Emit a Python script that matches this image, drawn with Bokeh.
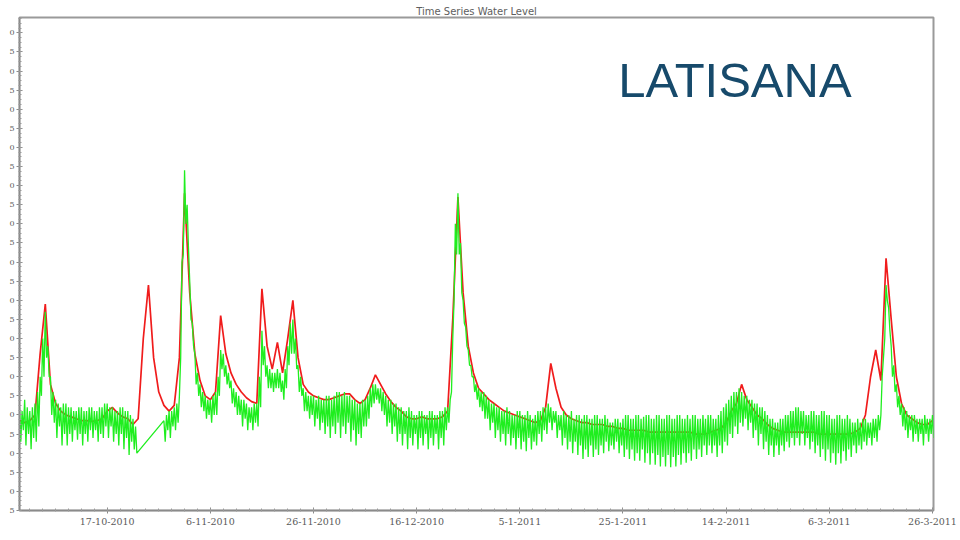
import pandas as pd
from bokeh.plotting import figure
from bokeh.models import FixedTicker, Label, Range1d
from bokeh.embed import file_html
from bokeh.resources import INLINE

# ---------------- data ----------------
start_date = "2010-09-30"          # day 0 of the daily series
n_days = 178

red_level = [
    18.6, 18.0, 18.5, 20.0, 36.0, 49.0, 28.0, 23.0, 21.0, 20.0,
    19.5, 19.0, 18.5, 18.5, 18.3, 18.5, 19.0, 21.0, 22.0, 20.5,
    19.5, 19.0, 17.5, 19.0, 40.0, 54.0, 35.0, 26.0, 22.5, 21.0,
    22.5, 35.0, 78.0, 52.0, 36.0, 29.0, 25.0, 24.0, 26.0, 46.0,
    36.0, 31.0, 28.0, 26.0, 24.5, 23.5, 23.0, 53.0, 38.0, 32.0,
    39.0, 31.0, 40.0, 50.0, 35.0, 28.0, 26.0, 25.0, 24.5, 24.0,
    24.0, 24.5, 25.0, 25.5, 25.5, 24.0, 23.0, 24.0, 27.0, 30.5,
    28.0, 25.5, 23.5, 22.0, 21.0, 19.5, 19.0, 19.0, 19.5, 19.0,
    19.0, 19.0, 19.5, 21.0, 45.0, 77.0, 52.0, 38.0, 31.0, 27.0,
    25.5, 24.0, 23.0, 22.0, 21.0, 20.5, 20.0, 19.5, 19.0, 18.5,
    18.0, 18.5, 22.0, 33.5, 27.0, 22.0, 20.0, 19.0, 18.5, 18.0,
    18.0, 17.5, 17.5, 17.5, 17.0, 17.0, 16.5, 16.5, 16.0, 16.0,
    16.0, 16.0, 15.5, 15.5, 15.5, 15.5, 15.5, 15.5, 15.5, 15.5,
    15.5, 15.0, 15.0, 15.0, 15.5, 16.0, 16.5, 18.0, 21.0, 23.0,
    28.0, 24.0, 22.0, 20.0, 19.0, 17.5, 16.5, 16.0, 15.5, 15.5,
    15.5, 15.5, 15.5, 15.5, 15.5, 15.0, 15.0, 15.0, 15.0, 15.0,
    15.0, 15.0, 15.5, 16.5, 20.0, 30.0, 37.0, 29.0, 61.0, 45.0,
    30.0, 23.0, 20.0, 19.0, 18.0, 17.5, 17.5, 18.5,
]

# green series, four readings per day (at d, d+1/4, d+1/2, d+3/4); None = no data
green_high = [
    22, 24, 21, 23, 30, 47, 30, 24, 22, 23,
    22, 21, 22, 21, 22, 21, 22, 23, 22, 21,
    22, 21, 19, None, None, None, None, None, 18.5, 21,
    22, 25, 84, 55, 36, 28, 25, 24, 26, 37,
    33, 29, 26, 24, 23, 22, 23, 42, 33, 31,
    32, 29, 38, 45, 33, 27, 25, 25, 25, 24,
    25, 25, 26, 26, 25, 24, 23, 24, 27, 28,
    27, 25, 24, 23, 22, 21, 21, 20, 21, 20,
    21, 20, 21, 22, 40, 78, 50, 37, 30, 27,
    26, 24, 23, 22, 21, 21, 20, 21, 20, 20,
    20, 21, 22, 22, 21, 20, 20, 21, 20, 19,
    20, 19, 20, 19, 19, 18, 19, 19, 20, 19,
    20, 19.5, 20, 19, 20, 19, 20, 19, 20, 19,
    19, 20, 19, 19, 20, 19, 21, 23, 25, 26,
    26, 25, 24, 23, 22, 20, 19, 18, 19, 20,
    21, 22, 21, 20, 21, 20, 21, 20, 19, 20,
    19, 19, 18, 18, 19, 18, 19, 20, 54, 38,
    28, 23, 21, 20, 19, 19, 19, 20,
]
green_low = [
    13, 12, 11, 13, 25, 35, 20, 14, 12, 12,
    13, 13.5, 12, 13, 14, 13, 14, 14, 13, 12,
    11, 9.5, 11, None, None, None, None, None, 13, 14,
    16, 35, 70, 45, 28, 22, 19, 18, 20, 32,
    28, 23, 20, 17, 16, 16, 17, 33, 27, 26,
    27, 24, 33, 36, 26, 21, 19, 17, 16, 15,
    14, 15, 14, 15, 13, 12, 14, 17, 22, 24,
    21, 17, 15, 13, 12, 11, 12, 11, 12, 11,
    12, 11, 12, 18, 50, 62, 44, 33, 26, 22,
    19, 16, 14, 13, 12, 12, 11, 11, 10.5, 11,
    12, 13, 15, 16, 14, 12, 11, 10, 9.5, 8.5,
    9, 9, 9.5, 10, 10.5, 11, 10, 9, 8.5, 8,
    8, 7.5, 7, 7, 6.5, 6.5, 6.3, 6.5, 7, 7.5,
    8, 8.5, 9, 9.5, 10, 9, 10, 12, 14, 15,
    17, 16, 14, 12, 11, 9.5, 9, 9.5, 10.5, 11.5,
    12, 12, 12, 11, 10, 9, 8, 7.5, 7, 7.3,
    8, 9, 10, 11, 12, 12, 13, 30, 50, 30,
    22, 17, 14, 13, 13, 12, 13, 14,
]
green_high2 = [
    21, 22, 22, 26, 40, 38, 26, 23, 23, 22,
    21, 22, 21, 22, 21, 22, 23, 22, 21, 22,
    21, 20, 17, None, None, None, None, None, 20, 21,
    23, 60, 75, 44, 31, 26, 24, 25, 30, 36,
    31, 27, 25, 24, 22, 23, 30, 38, 32, 31,
    31, 32, 44, 40, 30, 26, 25, 24, 24, 25,
    24, 26, 25, 25, 24, 23, 24, 25, 28, 27,
    26, 24, 23, 22, 21, 22, 20, 21, 20, 21,
    20, 21, 22, 24, 70, 65, 43, 33, 28, 26,
    25, 23, 22, 21, 22, 20, 21, 20, 21, 19,
    21, 22, 23, 21, 20, 21, 20, 19, 20, 20,
    19, 20, 19, 20, 18, 19, 18, 20, 19, 20,
    19, 20, 19, 20, 19, 20, 19, 20, 19, 20,
    20, 19, 20, 20, 19, 20, 22, 24, 26, 27,
    25, 24, 23, 22, 21, 19, 18, 19, 20, 21,
    22, 21, 20, 21, 20, 21, 20, 19, 20, 19,
    20, 18, 19, 19, 18, 19, 20, 35, 48, 33,
    25, 22, 20, 20, 19, 20, 19, 19,
]
green_low2 = [
    16, 15, 14, 17, 30, 30, 18, 17, 15, 15,
    16, 15, 15, 16, 16, 15, 17, 17, 15, 15,
    14, 13, 10, None, None, None, None, None, 16, 17,
    18, 62, 64, 38, 25, 21, 20, 20, 25, 30,
    27, 22, 20, 19, 18, 18, 22, 30, 27, 27,
    26, 27, 36, 32, 25, 21, 20, 19, 18, 17,
    17, 18, 17, 18, 16, 15, 17, 19, 23, 23,
    20, 18, 17, 15, 15, 14, 15, 14, 15, 14,
    15, 14, 16, 26, 62, 52, 38, 30, 24, 21,
    19, 18, 16, 15, 15, 14, 14, 13, 14, 13,
    15, 16, 18, 18, 16, 14, 13, 13, 12, 11,
    12, 11, 12, 13, 12, 13, 12, 11, 11, 10,
    11, 10, 10, 9.5, 9, 9.5, 9, 9.5, 10, 10,
    11, 11, 12, 12, 12, 12, 13, 15, 17, 18,
    19, 18, 16, 15, 13, 12, 12, 12, 13, 14,
    14, 15, 14, 13, 12, 11, 11, 10, 10, 10.5,
    11, 12, 12, 13, 14, 14, 16, 40, 42, 26,
    20, 16, 16, 15, 15, 15, 15, 16,
]

x_tick_dates = ["2010-10-17", "2010-11-06", "2010-11-26", "2010-12-16", "2011-01-05",
                "2011-01-25", "2011-02-14", "2011-03-06", "2011-03-26"]
x_tick_labels = ["17-10-2010", "6-11-2010", "26-11-2010", "16-12-2010", "5-1-2011",
                 "25-1-2011", "14-2-2011", "6-3-2011", "26-3-2011"]
y_tick_values = [-5, 0, 5, 10, 15, 20, 25, 30, 35, 40, 45, 50, 55, 60, 65, 70,
                 75, 80, 85, 90, 95, 100, 105, 110, 115, 120]
y_tick_labels = ["5", "0", "5", "0", "5", "0", "5", "0", "5", "0", "5", "0", "5",
                 "0", "5", "0", "5", "0", "5", "0", "5", "0", "5", "0", "5", "0"]

title_text = "Time Series Water Level"
station_name = "LATISANA"

# ---------------- build ----------------
t0 = pd.Timestamp(start_date)
DAY_MS = 86400000.0
def to_ms(day):
    return (t0 + pd.Timedelta(days=day)).timestamp() * 1000.0

red_x = [to_ms(d) for d in range(n_days)]

green_x, green_y = [], []
for d in range(n_days):
    if green_high[d] is None:
        continue
    for frac, arr in ((0.0, green_high), (0.25, green_low),
                      (0.5, green_high2), (0.75, green_low2)):
        green_x.append(to_ms(d + frac))
        green_y.append(arr[d])

x_start = to_ms(0.0)
x_end = to_ms(177.2)

p = figure(width=960, height=540, x_axis_type="datetime",
           x_range=Range1d(x_start, x_end), y_range=Range1d(-5, 124),
           output_backend="svg", toolbar_location=None,
           min_border_left=19, min_border_right=27,
           min_border_top=17, min_border_bottom=30,
           background_fill_color="white", border_fill_color="white")

p.title.text = title_text
p.title.align = "center"
p.title.text_font = "DejaVu Sans"
p.title.text_font_size = "10px"
p.title.text_font_style = "normal"
p.title.text_color = "#5e5e5e"
p.title.standoff = 2
p.title.offset = 0

p.line(red_x, red_level, line_color="#f01c1c", line_width=1.7)
p.line(green_x, green_y, line_color="#1fee1f", line_width=1.3)

# axes
major_x = [pd.Timestamp(s).timestamp() * 1000.0 for s in x_tick_dates]
minor_x = [major_x[0] + k * 2.5 * DAY_MS for k in range(-7, 65)]
p.xaxis.ticker = FixedTicker(ticks=major_x, minor_ticks=minor_x)
p.xaxis.major_label_overrides = {m: lab for m, lab in zip(major_x, x_tick_labels)}

minor_y = [-5 + k * 1.25 for k in range(0, 104)]
p.yaxis.ticker = FixedTicker(ticks=y_tick_values, minor_ticks=minor_y)
p.yaxis.major_label_overrides = {float(v): lab for v, lab in zip(y_tick_values, y_tick_labels)}

for ax in (p.xaxis[0], p.yaxis[0]):
    ax.axis_line_color = "#8a8a8a"
    ax.axis_line_width = 1.5
    ax.major_tick_line_color = "#8a8a8a"
    ax.minor_tick_line_color = "#9a9a9a"
    ax.major_tick_in = 3
    ax.major_tick_out = 3
    ax.minor_tick_in = 2
    ax.minor_tick_out = 1
    ax.major_label_text_font = "DejaVu Serif"
    ax.major_label_text_color = "#5a5a5a"
p.xaxis.major_label_text_font_size = "9.5px"
p.xaxis.major_label_standoff = 4
p.yaxis.major_label_text_font_size = "8px"
p.yaxis.major_label_standoff = 2

p.xgrid.visible = False
p.ygrid.visible = False
p.outline_line_color = "#9a9a9a"
p.outline_line_width = 2

p.add_layout(Label(x=to_ms(116.1), y=107.6, text=station_name,
                   text_font="Liberation Sans", text_font_size="49px",
                   text_color="#174a6b", text_baseline="alphabetic",
                   text_align="left"))

open("out.html", "w").write(file_html(p, INLINE))
